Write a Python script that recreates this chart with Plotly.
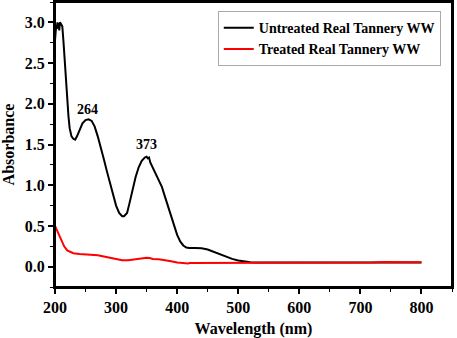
import plotly.graph_objects as go

# Untreated sample spectrum
wl_untreated = [200, 202, 203, 204, 205, 206, 207, 208, 210, 212, 214, 216, 218, 220, 222, 224, 227, 230, 233, 236,
                240, 245, 250, 255, 260, 265, 270, 275, 280, 285, 290, 295, 300, 305, 310, 313, 318, 322, 327, 332,
                337, 342, 347, 350, 352, 354, 356, 360, 365, 370, 375, 380, 385, 390, 395, 400, 405, 410, 415, 420,
                430, 440, 450, 460, 470, 480, 490, 500, 510, 520, 530, 550, 600, 700, 800]
abs_untreated = [2.78, 2.97, 2.92, 3.0, 2.93, 2.99, 2.9, 3.0, 2.98, 2.95, 2.75, 2.5, 2.25, 2.05, 1.85, 1.7, 1.6, 1.57, 1.56, 1.6,
                 1.68, 1.76, 1.8, 1.81, 1.79, 1.72, 1.6, 1.47, 1.32, 1.17, 1.02, 0.87, 0.75, 0.66, 0.62, 0.62, 0.66, 0.78, 0.95, 1.1,
                 1.22, 1.3, 1.34, 1.35, 1.33, 1.34, 1.28, 1.22, 1.15, 1.07, 0.98, 0.86, 0.74, 0.6, 0.48, 0.39, 0.31, 0.26, 0.235, 0.23,
                 0.23, 0.225, 0.21, 0.18, 0.15, 0.12, 0.095, 0.075, 0.062, 0.055, 0.052, 0.05, 0.05, 0.05, 0.05]

# Treated sample spectrum
wl_treated = [200, 203, 206, 210, 215, 220, 225, 230, 240, 250, 260, 270, 280, 290, 300, 310, 320, 330, 340, 350,
              355, 360, 370, 380, 390, 400, 410, 418, 420, 450, 500, 550, 580, 600, 650, 700, 720, 740, 760, 780, 800]
abs_treated = [0.5, 0.45, 0.39, 0.32, 0.25, 0.2, 0.18, 0.165, 0.155, 0.15, 0.15, 0.14, 0.125, 0.11, 0.09, 0.08, 0.08, 0.09, 0.1, 0.11,
               0.105, 0.095, 0.09, 0.08, 0.065, 0.05, 0.042, 0.038, 0.045, 0.045, 0.045, 0.045, 0.048, 0.05, 0.05, 0.05, 0.052, 0.058, 0.058, 0.055, 0.055]

series_names = ["Untreated Real Tannery WW", "Treated Real Tannery WW"]
peak_labels = ["264", "373"]
peak_label_x = [254, 349]
peak_label_y = [1.93, 1.5]

x_ticks = [200, 300, 400, 500, 600, 700, 800]
y_ticks = [0.0, 0.5, 1.0, 1.5, 2.0, 2.5, 3.0]

FONT = "Liberation Serif"

fig = go.Figure()
fig.add_trace(go.Scatter(x=wl_untreated, y=abs_untreated, mode="lines", name=series_names[0],
                         line=dict(color="black", width=2)))
fig.add_trace(go.Scatter(x=wl_treated, y=abs_treated, mode="lines", name=series_names[1],
                         line=dict(color="#ff0000", width=2)))

for t, xx, yy in zip(peak_labels, peak_label_x, peak_label_y):
    fig.add_annotation(x=xx, y=yy, text=t, showarrow=False,
                       font=dict(family=FONT, size=14, color="black", weight="bold"))

axis_common = dict(showline=True, linecolor="black", linewidth=2, mirror=True, ticks="outside",
                   ticklen=5, tickwidth=1.5, tickcolor="black", showgrid=False, zeroline=False,
                   automargin=False,
                   tickfont=dict(family=FONT, size=16, color="black", weight="bold"))

fig.update_xaxes(range=[200, 850], tickvals=x_ticks, ticktext=[str(v) for v in x_ticks],
                 minor=dict(ticks="outside", ticklen=3, dtick=50, tick0=200, tickcolor="black", tickwidth=1),
                 title=dict(text="Wavelength (nm)", font=dict(family=FONT, size=16, color="black", weight="bold"), standoff=12),
                 **axis_common)
fig.update_yaxes(range=[-0.25, 3.25], tickvals=y_ticks, ticktext=[f"{v:.1f}" for v in y_ticks],
                 minor=dict(ticks="outside", ticklen=3, dtick=0.25, tick0=0, tickcolor="black", tickwidth=1),
                 title=dict(text="Absorbance", font=dict(family=FONT, size=16, color="black", weight="bold"), standoff=8),
                 **axis_common)

fig.add_shape(type="rect", xref="paper", yref="paper", x0=0, y0=0, x1=1, y1=1,
              line=dict(color="black", width=2), fillcolor="rgba(0,0,0,0)", layer="above")

fig.update_layout(
    width=457, height=338,
    margin=dict(l=55, r=5, t=2, b=51, autoexpand=False),
    plot_bgcolor="white", paper_bgcolor="white",
    showlegend=True,
    legend=dict(x=0.41, y=0.968, xanchor="left", yanchor="top",
                bgcolor="white", bordercolor="#aaaaaa", borderwidth=1,
                font=dict(family=FONT, size=14, color="black", weight="bold"),
                tracegroupgap=0, itemwidth=30),
)

fig.write_html("out.html", config={"displayModeBar": False},
               post_script="document.body.style.margin='0';document.body.style.padding='0';document.body.style.overflow='hidden';")
